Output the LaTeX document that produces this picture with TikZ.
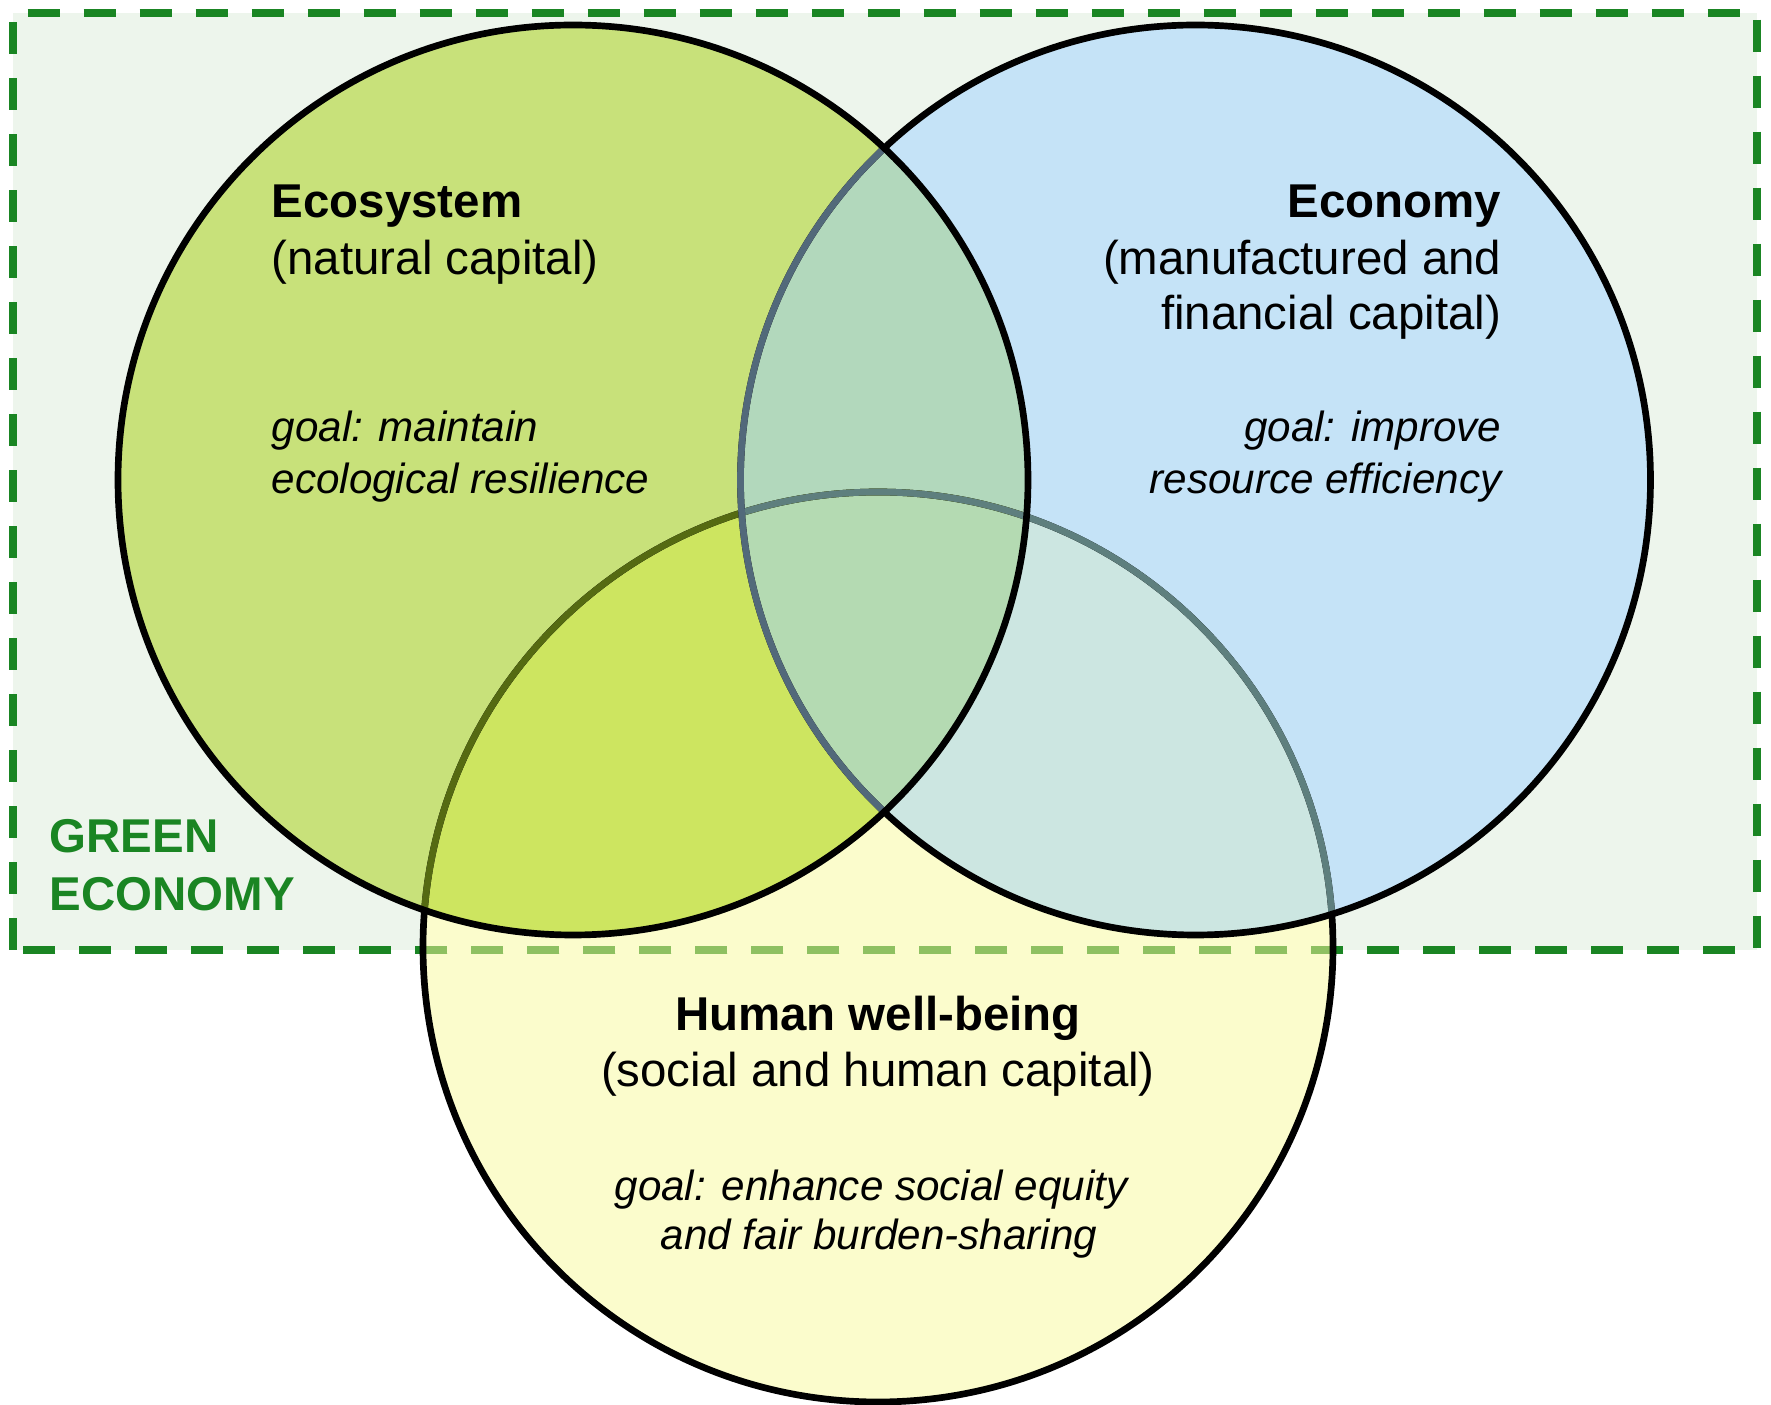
\documentclass[tikz,border=0pt]{standalone}
\usepackage{fontspec}
\setmainfont{Liberation Sans}

\definecolor{boxbg}{HTML}{EDF5EC}
\definecolor{boxline}{HTML}{1A8523}
\definecolor{boxlight}{HTML}{8EC061}
\definecolor{ecofill}{HTML}{C8E17A}
\definecolor{econfill}{HTML}{C5E3F7}
\definecolor{humfill}{HTML}{FBFCCC}
\definecolor{ecohum}{HTML}{CDE560}
\definecolor{econhum}{HTML}{CCE6E1}
\definecolor{ecoecon}{HTML}{B2D8BC}
\definecolor{allthree}{HTML}{B4DAB2}
\definecolor{oliveline}{HTML}{556A12}
\definecolor{blueline}{HTML}{52697A}
\definecolor{tealline}{HTML}{5E7F7E}

\begin{document}
\begin{tikzpicture}[
    ttl/.style={font=\fontsize{13.5}{16}\selectfont\bfseries, inner sep=0pt},
    sub/.style={font=\fontsize{13.5}{16}\selectfont, inner sep=0pt},
    goal/.style={font=\fontsize{12}{14}\selectfont\itshape, inner sep=0pt},
    ring/.style={line width=1.9pt},
    gedash/.style={line width=2.3pt, dash pattern=on 0.32cm off 0.24cm}]
      \useasboundingbox (0,0) rectangle (17.71,14.05);

      \def\rr{4.55}
      \coordinate (eco) at (5.73,9.25);
      \coordinate (econ) at (11.955,9.25);
      \coordinate (hum) at (8.78,4.58);
      \coordinate (ge-sw) at (0.126,4.55);
      \coordinate (ge-ne) at (17.57,13.92);

      % green economy box
      \fill[boxbg] (ge-sw) rectangle (ge-ne);

      % circle fills and overlaps
      \fill[humfill] (hum) circle (\rr);
      \fill[ecofill] (eco) circle (\rr);
      \fill[econfill] (econ) circle (\rr);
      \begin{scope}
        \clip (econ) circle (\rr);
        \fill[econhum] (hum) circle (\rr);
      \end{scope}
      \begin{scope}
        \clip (eco) circle (\rr);
        \fill[ecohum] (hum) circle (\rr);
        \fill[ecoecon] (econ) circle (\rr);
        \clip (econ) circle (\rr);
        \fill[allthree] (hum) circle (\rr);
      \end{scope}

      \draw[gedash, boxline] (ge-sw) rectangle (ge-ne);
      \begin{scope}
        \clip (hum) circle (\rr);
        \draw[gedash, boxlight] (ge-sw) rectangle (ge-ne);
      \end{scope}

      % outlines
      \draw[ring] (hum) circle (\rr);
      \begin{scope}
        \clip (eco) circle (\rr);
        \draw[ring, oliveline] (hum) circle (\rr);
      \end{scope}
      \begin{scope}
        \clip (econ) circle (\rr);
        \draw[ring, tealline] (hum) circle (\rr);
      \end{scope}
      \draw[ring] (econ) circle (\rr);
      \begin{scope}
        \clip (eco) circle (\rr);
        \draw[ring, blueline] (econ) circle (\rr);
      \end{scope}
      \draw[ring] (eco) circle (\rr);

      % labels
      \node[ttl, anchor=base west] (ecoT) at (2.71,11.87) {Ecosystem};
      \node[sub, anchor=base west] (ecoC) at (2.71,11.305) {(natural capital)};
      \node[goal, anchor=base west] (ecoG1) at (2.71,9.634) {goal: maintain};
      \node[goal, anchor=base west] (ecoG2) at (2.71,9.114) {ecological resilience};

      \node[ttl, anchor=base east] (econT) at (15.02,11.87) {Economy};
      \node[sub, anchor=base east] (econC1) at (15.02,11.305) {(manufactured and};
      \node[sub, anchor=base east] (econC2) at (15.02,10.75) {financial capital)};
      \node[goal, anchor=base east] (econG1) at (15.02,9.634) {goal: improve};
      \node[goal, anchor=base east] (econG2) at (15.02,9.114) {resource efficiency};

      \node[ttl, anchor=base] (humT) at (8.78,3.74) {Human well-being};
      \node[sub, anchor=base] (humC) at (8.78,3.184) {(social and human capital)};
      \node[goal, anchor=base] (humG1) at (8.71,2.044) {goal: enhance social equity};
      \node[goal, anchor=base] (humG2) at (8.79,1.55) {and fair burden-sharing};

      \node[ttl, boxline, anchor=base west] (geA) at (0.49,5.52) {GREEN};
      \node[ttl, boxline, anchor=base west] (geB) at (0.49,4.94) {ECONOMY};
        
    \end{tikzpicture}
\end{document}
